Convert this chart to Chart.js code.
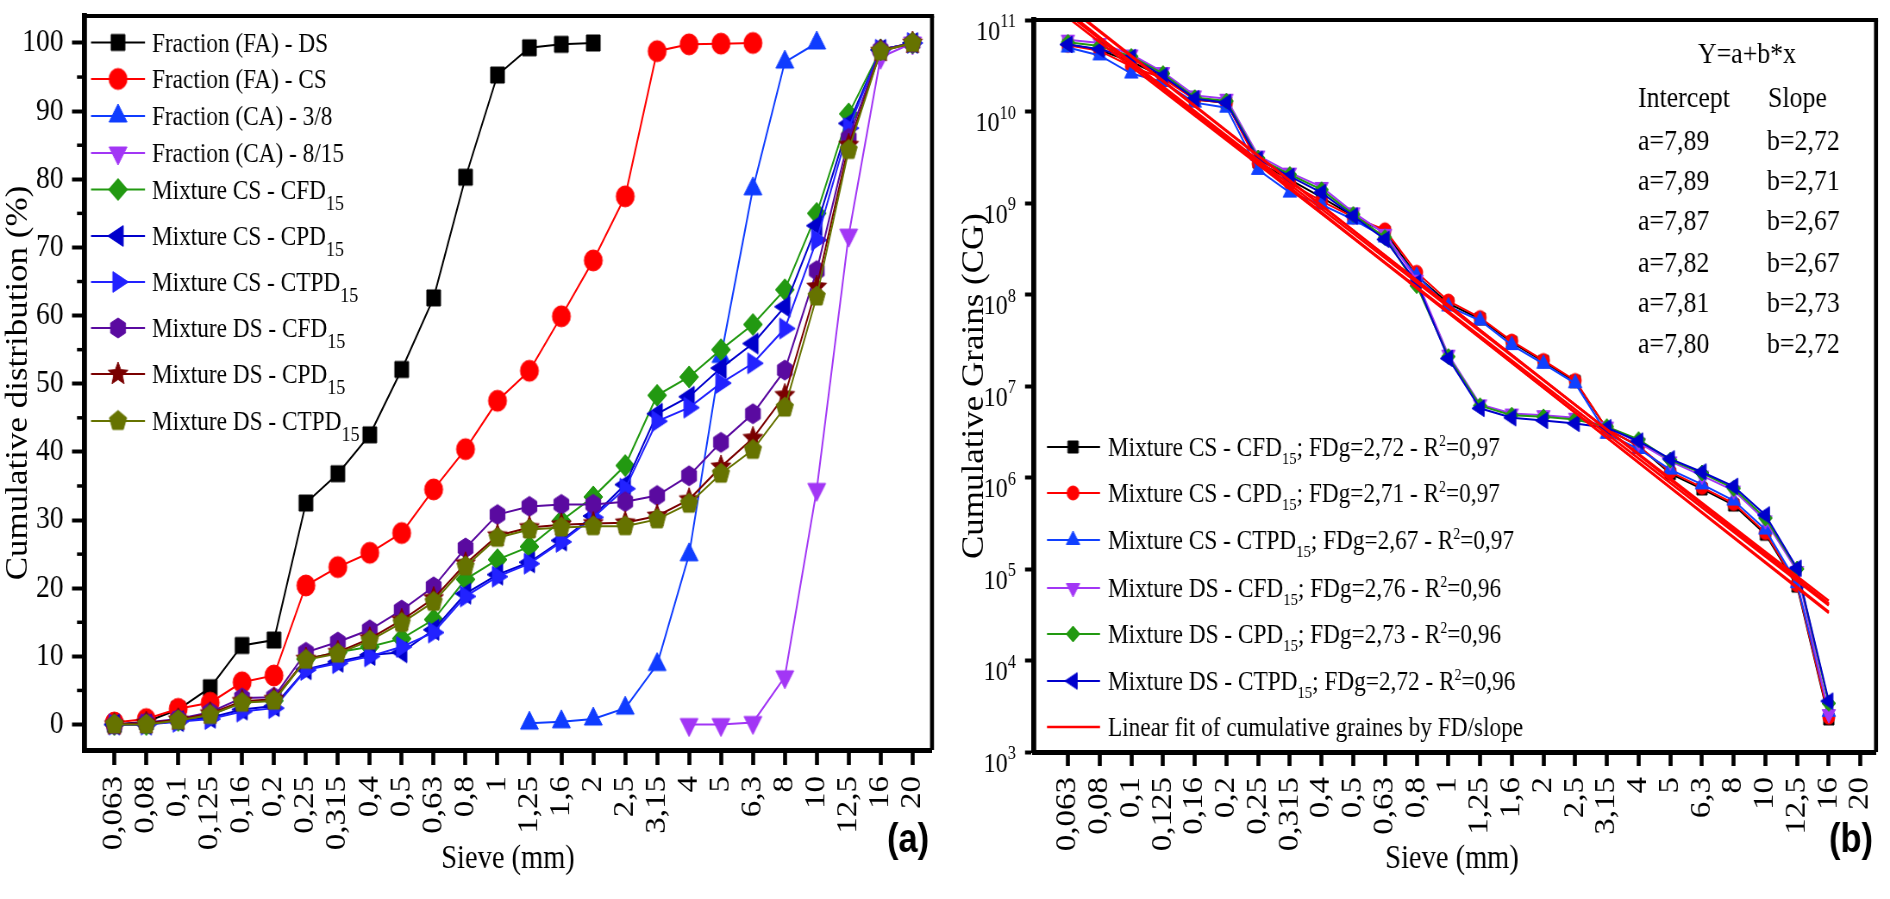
<!DOCTYPE html>
<html><head><meta charset="utf-8">
<script src="https://cdn.jsdelivr.net/npm/chart.js@4.4.1/dist/chart.umd.min.js"></script>
<style>
html,body{margin:0;padding:0;background:#fff;overflow:hidden;}
#wrap{position:relative;width:1890px;height:899px;background:#fff;}
.pane{position:absolute;top:0;transform-origin:0 0;}
canvas{display:block;}
</style></head><body>
<div id="wrap">
<div class="pane" id="pa" style="left:0px"><canvas id="ca"></canvas></div>
<div class="pane" id="pb" style="left:945px"><canvas id="cb"></canvas></div>
</div>
<script>
// ---------------- DATA ----------------
const sieves = ['0,063','0,08','0,1','0,125','0,16','0,2','0,25','0,315','0,4','0,5','0,63','0,8','1','1,25','1,6','2','2,5','3,15','4','5','6,3','8','10','12,5','16','20'];

// panel (a) cumulative distribution (%)
const faDS   = [0,0.4,2.2,5.4,11.6,12.4,32.5,36.8,42.5,52.1,62.6,80.3,95.3,99.3,99.8,100,null,null,null,null,null,null,null,null,null,null];
const faCS   = [0.3,0.8,2.3,3.2,6.2,7.2,20.4,23.1,25.2,28.1,34.5,40.4,47.5,51.9,59.9,68.1,77.5,98.8,99.8,99.9,100,null,null,null,null,null];
const ca38   = [null,null,null,null,null,null,null,null,null,null,null,null,null,0.2,0.4,0.8,2.4,8.8,24.9,54.0,78.6,97.2,100,null,null,null];
const ca815  = [null,null,null,null,null,null,null,null,null,null,null,null,null,null,null,null,null,null,0,0,0.3,7.0,34.5,71.8,97.9,100];
const csCFD  = [0,0,0.6,1.4,3.3,3.5,9.6,10.6,11.4,12.6,15.4,21.3,24.2,26.1,29.9,33.4,38.0,48.3,51.0,55.0,58.7,63.8,75.0,89.6,99.0,100];
const csCPD  = [0,0,0.5,1.0,2.2,2.7,8.1,9.2,10.2,10.6,13.9,19.2,22.0,23.8,27.0,30.6,35.2,45.6,48.1,52.3,55.9,61.3,73.2,88.2,99.0,100];
const csCTPD = [0,0,0.4,0.8,1.9,2.4,8.0,9.0,10.0,11.4,13.5,18.8,21.7,23.6,26.8,30.4,34.6,44.5,46.5,50.1,53.0,58.1,71.1,87.5,99.0,100];
const dsCFD  = [0,0.3,0.8,1.8,3.9,4.0,10.6,12.1,13.9,16.8,20.2,25.9,30.8,32.0,32.3,32.3,32.7,33.6,36.5,41.4,45.6,52.0,66.6,86.0,99.0,100];
const dsCPD  = [0,0.2,0.7,1.6,3.4,3.7,9.6,10.6,12.6,15.3,18.5,23.6,27.7,28.9,29.3,29.5,29.6,30.6,33.0,37.8,42.0,48.3,64.2,85.0,98.8,100];
const dsCTPD = [0,0,0.6,1.4,3.2,3.5,9.5,10.4,12.3,14.9,18.0,23.2,27.4,28.6,28.9,29.1,29.1,30.1,32.4,36.8,40.3,46.5,62.8,84.3,98.8,100];
const yTicksA = [0,10,20,30,40,50,60,70,80,90,100];
const yMinorA = [5,15,25,35,45,55,65,75,85,95];

// panel (b) cumulative grains (CG)
const cgCsCFD  = [5.4e10,4.7e10,3.5e10,2.4e10,1.35e10,1.25e10,2.8e9,1.8e9,1.15e9,7.2e8,4.8e8,1.6e8,8.0e7,5.4e7,3.0e7,1.85e7,1.12e7,3.4e6,2.2e6,1.1e6,7.5e5,5.0e5,2.4e5,6.5e4,2.3e3];
const cgCsCPD  = [5.3e10,4.6e10,3.1e10,2.3e10,1.35e10,1.25e10,2.7e9,1.65e9,1.05e9,7.0e8,5.1e8,1.75e8,8.5e7,5.6e7,3.1e7,1.9e7,1.15e7,3.4e6,2.2e6,1.15e6,7.8e5,5.2e5,2.5e5,6.7e4,2.4e3];
const cgCsCTPD = [5.0e10,4.1e10,2.6e10,2.1e10,1.25e10,1.1e10,2.3e9,1.3e9,9.6e8,6.6e8,4.2e8,1.6e8,7.4e7,5.2e7,2.8e7,1.75e7,1.07e7,3.0e6,2.05e6,1.22e6,8.4e5,5.6e5,2.7e5,7.0e4,2.75e3];
const cgDsCFD  = [6.1e10,5.6e10,4.2e10,2.7e10,1.5e10,1.38e10,3.3e9,2.15e9,1.5e9,7.9e8,4.6e8,1.45e8,2.2e7,6.3e6,5.0e6,4.8e6,4.5e6,3.6e6,2.4e6,1.5e6,1.05e6,7.2e5,3.4e5,9.5e4,2.6e3];
const cgDsCPD  = [5.7e10,5.2e10,4.0e10,2.6e10,1.42e10,1.3e10,3.1e9,2.05e9,1.4e9,7.5e8,4.2e8,1.25e8,2.1e7,6.1e6,4.8e6,4.6e6,4.3e6,3.6e6,2.6e6,1.55e6,1.12e6,7.6e5,3.6e5,1.0e5,3.4e3];
const cgDsCTPD = [5.4e10,4.8e10,3.9e10,2.45e10,1.38e10,1.25e10,3.0e9,1.95e9,1.3e9,7.2e8,4.0e8,1.35e8,2.0e7,5.7e6,4.5e6,4.2e6,3.9e6,3.5e6,2.5e6,1.6e6,1.15e6,8.0e5,3.9e5,1.02e5,3.6e3];
// linear-fit lines: value at first sieve (0,063) and at 16 mm
const fitStartCG = [1.43e11,1.39e11,1.19e11,1.06e11,1.22e11,1.16e11];
const fitEndCG   = [4.1e4,4.2e4,4.5e4,4.0e4,3.3e4,3.4e4];
const fitEndIndex = 24;
const interceptA = ['7,89','7,89','7,87','7,82','7,81','7,80'];
const slopeB     = ['2,72','2,71','2,67','2,67','2,73','2,72'];
const yTicksB = [1e3,1e4,1e5,1e6,1e7,1e8,1e9,1e10,1e11];

const namesA = ['Fraction (FA) - DS','Fraction (FA) - CS','Fraction (CA) - 3/8','Fraction (CA) - 8/15',
  'Mixture CS - CFD_{15}','Mixture CS - CPD_{15}','Mixture CS - CTPD_{15}','Mixture DS - CFD_{15}','Mixture DS - CPD_{15}','Mixture DS - CTPD_{15}'];
const namesB = ['Mixture CS - CFD_{15}; FDg=2,72 - R^{2}=0,97','Mixture CS - CPD_{15}; FDg=2,71 - R^{2}=0,97','Mixture CS - CTPD_{15}; FDg=2,67 - R^{2}=0,97',
  'Mixture DS - CFD_{15}; FDg=2,76 - R^{2}=0,96','Mixture DS - CPD_{15}; FDg=2,73 - R^{2}=0,96','Mixture DS - CTPD_{15}; FDg=2,72 - R^{2}=0,96'];
const fitName = 'Linear fit of cumulative graines by FD/slope';

// ---------------- SETUP ----------------
const PW = 945, PH = 899;
const CW = Math.round(PW*1.16);
const KX = CW/PW;
const SERIF = '"Liberation Serif","Times New Roman",serif';
document.getElementById('pa').style.transform = 'scaleX('+(PW/CW)+')';
document.getElementById('pb').style.transform = 'scaleX('+(PW/CW)+')';
for (const id of ['ca','cb']) { const c=document.getElementById(id); c.width=CW; c.height=PH; c.style.width=CW+'px'; c.style.height=PH+'px'; }
const sxA = fx => fx*KX;
const sxB = fx => (fx-945)*KX;

function marker(shape, R, color){
  const s = Math.ceil(2*R+4);
  const c = document.createElement('canvas'); c.width=s; c.height=s;
  const g = c.getContext('2d'); g.fillStyle=color; g.strokeStyle=color; g.lineWidth=1;
  const cx=s/2, cy=s/2;
  g.beginPath();
  const poly=(n,start,r)=>{for(let i=0;i<n;i++){const a=start+i*2*Math.PI/n;const x=cx+r*Math.cos(a),y=cy+r*Math.sin(a);if(i)g.lineTo(x,y);else g.moveTo(x,y);}g.closePath();};
  switch(shape){
    case 'square': g.rect(cx-R,cy-R,2*R,2*R); break;
    case 'circle': g.arc(cx,cy,R,0,2*Math.PI); break;
    case 'tri-up': poly(3,-Math.PI/2,R); break;
    case 'tri-down': poly(3,Math.PI/2,R); break;
    case 'tri-left': poly(3,Math.PI,R); break;
    case 'tri-right': poly(3,0,R); break;
    case 'diamond': poly(4,-Math.PI/2,R); break;
    case 'hexagon': poly(6,-Math.PI/2,R); break;
    case 'pentagon': poly(5,-Math.PI/2,R); break;
    case 'star': for(let i=0;i<10;i++){const a=-Math.PI/2+i*Math.PI/5;const r=i%2?R*0.45:R;const x=cx+r*Math.cos(a),y=cy+r*Math.sin(a);if(i)g.lineTo(x,y);else g.moveTo(x,y);} g.closePath(); break;
  }
  g.fill(); g.stroke();
  return c;
}
const toPts = arr => arr.map((v,i)=>v==null?null:{x:i,y:v}).filter(p=>p);

function parts(label){
  const out=[]; const re=/_\{([^}]*)\}|\^\{([^}]*)\}/g; let last=0,m;
  while((m=re.exec(label))){ if(m.index>last) out.push({t:label.slice(last,m.index),k:0}); if(m[1]!=null) out.push({t:m[1],k:-1}); else out.push({t:m[2],k:1}); last=re.lastIndex; }
  if(last<label.length) out.push({t:label.slice(last),k:0});
  return out;
}
function drawRich(ctx,label,x,y,F,subF,subDy,supF,supDy){
  for(const p of parts(label)){
    const f = p.k===0?F:(p.k<0?subF:supF);
    const dy = p.k===0?0:(p.k<0?subDy:supDy);
    ctx.font = f+'px '+SERIF;
    ctx.fillText(p.t,x,y+dy);
    x += ctx.measureText(p.t).width;
  }
}

// ---------------- PANEL (a) ----------------
const colA = ['#000000','#ff0000','#0f3cff','#a236f5','#229911','#0000cc','#2222ff','#5a0aa0','#7a0000','#667300'];
const shpA = ['square','circle','tri-up','tri-down','diamond','tri-left','tri-right','hexagon','star','pentagon'];
const sizA = [8,10.5,12,12,11,12,12,10,12,10.5];
const dataA = [faDS,faCS,ca38,ca815,csCFD,csCPD,csCTPD,dsCFD,dsCPD,dsCTPD];
const mkA = shpA.map((s,i)=>marker(s,sizA[i],colA[i]));
const legendYA = [42.5,79,116,153,189.5,236,282,328,374,421];

const decorA = {
  id:'decorA',
  afterDraw(chart){
    const ctx=chart.ctx, a=chart.chartArea;
    ctx.save();
    ctx.strokeStyle='#000';
    ctx.lineWidth=4; ctx.beginPath(); ctx.moveTo(a.left,a.top); ctx.lineTo(a.right+2*KX,a.top); ctx.stroke();
    ctx.lineWidth=4*KX; ctx.beginPath(); ctx.moveTo(a.right,a.top); ctx.lineTo(a.right,a.bottom); ctx.stroke();
    const ys=chart.scales.y;
    ctx.lineWidth=3.5;
    for(const v of yMinorA){const py=ys.getPixelForValue(v);ctx.beginPath();ctx.moveTo(a.left,py);ctx.lineTo(a.left-7*KX,py);ctx.stroke();}
    // legend
    ctx.fillStyle='#000'; ctx.textBaseline='alphabetic'; ctx.textAlign='left';
    namesA.forEach((n,i)=>{
      const y=legendYA[i];
      ctx.strokeStyle=colA[i]; ctx.lineWidth=2;
      ctx.beginPath(); ctx.moveTo(sxA(91),y); ctx.lineTo(sxA(145),y); ctx.stroke();
      const m=mkA[i]; ctx.drawImage(m, sxA(118)-m.width/2, y-m.height/2);
      ctx.fillStyle='#000';
      drawRich(ctx,n,sxA(152),y+9,27,21,11,18,-10);
    });
    // titles
    ctx.fillStyle='#000';
    ctx.font='35px '+SERIF; ctx.textAlign='center'; ctx.textBaseline='middle';
    ctx.save(); ctx.translate(sxA(19),383); ctx.rotate(-Math.PI/2); ctx.fillText('Cumulative distribution (%)',0,0); ctx.restore();
    ctx.font='33px '+SERIF; ctx.fillText('Sieve (mm)', sxA(508), 859);
    ctx.font='bold 40px "Liberation Sans",Arial,sans-serif'; ctx.fillText('(a)', sxA(908), 841);
    ctx.restore();
  }
};

new Chart(document.getElementById('ca'),{
  type:'line',
  data:{datasets:dataA.map((d,i)=>({label:namesA[i],data:toPts(d),borderColor:colA[i],backgroundColor:colA[i],borderWidth:2,pointStyle:mkA[i],pointRadius:5,order:100-i,tension:0}))},
  options:{
    responsive:false, animation:false, devicePixelRatio:1, events:[],
    layout:{padding:{left:0,top:16,right:CW-sxA(932),bottom:0}},
    plugins:{legend:{display:false},tooltip:{enabled:false}},
    scales:{
      x:{type:'linear',min:-0.95,max:25.61,
        afterBuildTicks:s=>{s.ticks=sieves.map((c,i)=>({value:i}));},
        ticks:{autoSkip:false,maxRotation:90,minRotation:90,padding:11,color:'#000',font:{family:SERIF,size:33},callback:v=>sieves[v]},
        grid:{drawOnChartArea:false,drawTicks:true,tickLength:15,tickWidth:4*KX,tickColor:'#000'},
        border:{display:true,width:5,color:'#000'},
        afterFit:s=>{s.height=PH-750;s.paddingLeft=0;s.paddingRight=0;}
      },
      y:{type:'linear',min:-3.74,max:103.96,
        afterBuildTicks:s=>{s.ticks=yTicksA.map(v=>({value:v}));},
        ticks:{padding:8.5*KX,color:'#000',font:{family:SERIF,size:32}},
        grid:{drawOnChartArea:false,drawTicks:true,tickLength:12*KX,tickWidth:4,tickColor:'#000'},
        border:{display:true,width:5*KX,color:'#000'},
        afterFit:s=>{s.width=sxA(84);s.paddingTop=0;s.paddingBottom=0;}
      }
    }
  },
  plugins:[decorA]
});

// ---------------- PANEL (b) ----------------
const colB = ['#000000','#ff0000','#1040ff','#a236f5','#229911','#0000cc'];
const shpB = ['square','circle','tri-up','tri-down','diamond','tri-left'];
const sizB = [6,7,9,9,8,9.5];
const dataB = [cgCsCFD,cgCsCPD,cgCsCTPD,cgDsCFD,cgDsCPD,cgDsCTPD];
const mkB = shpB.map((s,i)=>marker(s,sizB[i],colB[i]));
const legendYB = [447,493,540,588,634,681,727];

const decorB = {
  id:'decorB',
  afterDraw(chart){
    const ctx=chart.ctx, a=chart.chartArea;
    ctx.save();
    ctx.strokeStyle='#000';
    ctx.lineWidth=4; ctx.beginPath(); ctx.moveTo(a.left,a.top); ctx.lineTo(a.right+2*KX,a.top); ctx.stroke();
    ctx.lineWidth=4*KX; ctx.beginPath(); ctx.moveTo(a.right,a.top); ctx.lineTo(a.right,a.bottom); ctx.stroke();
    // y tick labels 10^n
    const ys=chart.scales.y;
    ctx.fillStyle='#000'; ctx.textBaseline='alphabetic'; ctx.textAlign='left';
    const xr=sxB(1016);
    for(const v of yTicksB){
      const py=ys.getPixelForValue(v);
      const e=String(Math.round(Math.log10(v)));
      ctx.font='19px '+SERIF; const we=ctx.measureText(e).width;
      ctx.font='28px '+SERIF; const wb=ctx.measureText('10').width;
      ctx.fillText('10',xr-we-wb,py+19.5);
      ctx.font='19px '+SERIF; ctx.fillText(e,xr-we,py+7);
    }
    // legend
    namesB.forEach((n,i)=>{
      const y=legendYB[i];
      ctx.strokeStyle=colB[i]; ctx.lineWidth=2;
      ctx.beginPath(); ctx.moveTo(sxB(1047),y); ctx.lineTo(sxB(1100),y); ctx.stroke();
      const m=mkB[i]; ctx.drawImage(m, sxB(1073)-m.width/2, y-m.height/2);
      ctx.fillStyle='#000';
      drawRich(ctx,n,sxB(1108),y+9,27,17,8,16,-10);
    });
    {
      const y=legendYB[6];
      ctx.strokeStyle='#ff0000'; ctx.lineWidth=2.5;
      ctx.beginPath(); ctx.moveTo(sxB(1047),y); ctx.lineTo(sxB(1100),y); ctx.stroke();
      ctx.fillStyle='#000'; ctx.font='27px '+SERIF; ctx.fillText(fitName,sxB(1108),y+9);
    }
    // fit table
    ctx.font='30px '+SERIF; ctx.textAlign='center';
    ctx.fillText('Y=a+b*x', sxB(1747), 63);
    ctx.textAlign='left';
    ctx.fillText('Intercept', sxB(1638), 106.5);
    ctx.fillText('Slope', sxB(1768), 106.5);
    const rowY=[150,190,230,271.5,312,353];
    interceptA.forEach((s,i)=>{ ctx.fillText('a='+s, sxB(1638), rowY[i]); ctx.fillText('b='+slopeB[i], sxB(1767), rowY[i]); });
    // titles
    ctx.textAlign='center'; ctx.textBaseline='middle';
    ctx.font='35px '+SERIF;
    ctx.save(); ctx.translate(sxB(975),386); ctx.rotate(-Math.PI/2); ctx.fillText('Cumulative Grains (CG)',0,0); ctx.restore();
    ctx.font='33px '+SERIF; ctx.fillText('Sieve (mm)', sxB(1452), 859);
    ctx.font='bold 40px "Liberation Sans",Arial,sans-serif'; ctx.fillText('(b)', sxB(1851), 841);
    ctx.restore();
  }
};

const dsB = dataB.map((d,i)=>({label:namesB[i],data:toPts(d),borderColor:colB[i],backgroundColor:colB[i],borderWidth:2,pointStyle:mkB[i],pointRadius:5,order:100-i,tension:0}));
fitStartCG.forEach((v,i)=>{
  dsB.push({label:fitName,data:[{x:0,y:v},{x:fitEndIndex,y:fitEndCG[i]}],borderColor:'#ff0000',backgroundColor:'#ff0000',borderWidth:2.5,pointRadius:0,order:0,tension:0});
});

new Chart(document.getElementById('cb'),{
  type:'line',
  data:{datasets:dsB},
  options:{
    responsive:false, animation:false, devicePixelRatio:1, events:[],
    layout:{padding:{left:0,top:20,right:CW-sxB(1876),bottom:0}},
    plugins:{legend:{display:false},tooltip:{enabled:false}},
    scales:{
      x:{type:'linear',min:-1.07,max:25.49,
        afterBuildTicks:s=>{s.ticks=sieves.map((c,i)=>({value:i}));},
        ticks:{autoSkip:false,maxRotation:90,minRotation:90,padding:11,color:'#000',font:{family:SERIF,size:33},callback:v=>sieves[v]},
        grid:{drawOnChartArea:false,drawTicks:true,tickLength:14,tickWidth:4*KX,tickColor:'#000'},
        border:{display:true,width:5,color:'#000'},
        afterFit:s=>{s.height=PH-752;s.paddingLeft=0;s.paddingRight=0;}
      },
      y:{type:'logarithmic',min:1e3,max:1e11,
        afterBuildTicks:s=>{s.ticks=yTicksB.map(v=>({value:v}));},
        ticks:{display:false},
        grid:{drawOnChartArea:false,drawTicks:true,tickLength:9*KX,tickWidth:4,tickColor:'#000'},
        border:{display:true,width:5*KX,color:'#000'},
        afterFit:s=>{s.width=sxB(1034);s.paddingTop=0;s.paddingBottom=0;}
      }
    }
  },
  plugins:[decorB]
});
</script>
</body></html>
